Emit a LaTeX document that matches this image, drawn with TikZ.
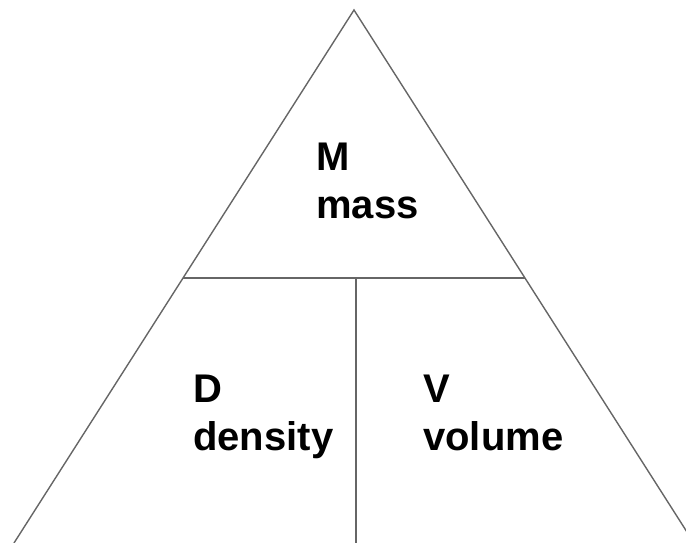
\documentclass[tikz,border=0pt]{standalone}
\usepackage{fontspec}
\setmainfont{Liberation Sans}
\usepackage{tikz}
\usetikzlibrary{calc}
\definecolor{edgegray}{HTML}{666666}

\begin{document}
\begin{tikzpicture}[x=1pt, y=-1pt,
  edge/.style={draw=edgegray, line width=1.4pt},
  lbl/.style={anchor=north west, inner sep=0pt, align=left, font=\fontsize{40}{48}\selectfont\bfseries}]
\clip (0,0) rectangle (686,543);
% triangle corners
\coordinate (apex) at (354,10);
\coordinate (lcorner) at (14,543);
\coordinate (rcorner) at (694,543);
\draw[edge] (lcorner) -- (apex) -- (rcorner);
% dividing lines
\coordinate (ml) at ($(apex)!0.503!(lcorner)$);
\coordinate (mr) at ($(apex)!0.503!(rcorner)$);
\coordinate (mtop) at (356,278);
\coordinate (mbot) at (356,543);
\draw[edge] (ml) -- (mr);
\draw[edge] (mtop) -- (mbot);
% labels
\node[lbl] (mtxt) at (316,143) {M\\mass};
\node[lbl] (dtxt) at (193,375) {D\\density};
\node[lbl] (vtxt) at (423,375) {V\\volume};
\end{tikzpicture}
\end{document}
